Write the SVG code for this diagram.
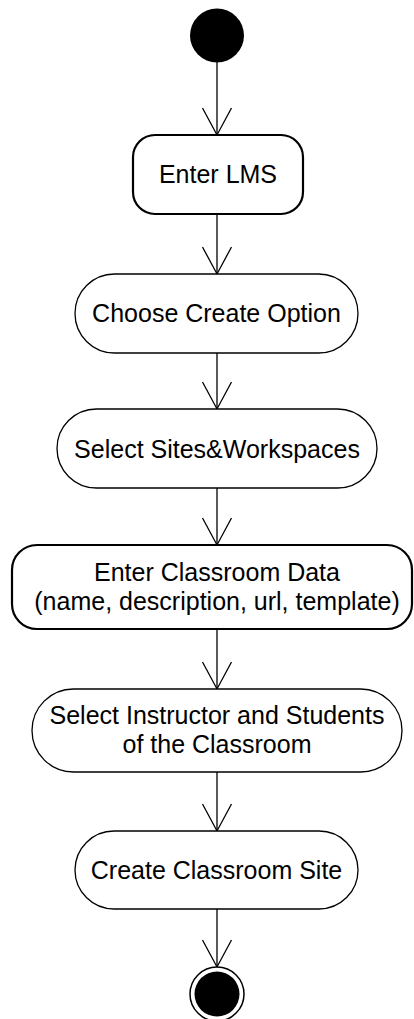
<svg xmlns="http://www.w3.org/2000/svg" width="414" height="1019" viewBox="0 0 414 1019">
<style>
.bg{fill:#fff}
.act{fill:#fff;stroke:#000;stroke-width:1.3}
.thick{stroke-width:2.2}
.lbl{font-family:"Liberation Sans",Arial,sans-serif;font-size:25px;fill:#000;text-anchor:middle}
.edge{fill:none;stroke:#000;stroke-width:1.3}
</style>
<defs>
<marker id="open" markerUnits="userSpaceOnUse" orient="auto" refX="0" refY="0" markerWidth="30" markerHeight="30" overflow="visible">
<path d="M-27,-14.5 L0,0 L-27,14.5" fill="none" stroke="#000" stroke-width="1.3"/>
</marker>
</defs>
<rect class="bg" x="0" y="0" width="414" height="1019"/>
<g id="connectors">
<line class="edge" x1="217" y1="62" x2="217" y2="135" marker-end="url(#open)"/>
<line class="edge" x1="217" y1="214" x2="217" y2="274" marker-end="url(#open)"/>
<line class="edge" x1="217" y1="353" x2="217" y2="409" marker-end="url(#open)"/>
<line class="edge" x1="217" y1="488" x2="217" y2="545" marker-end="url(#open)"/>
<line class="edge" x1="217" y1="629" x2="217" y2="689" marker-end="url(#open)"/>
<line class="edge" x1="217" y1="772" x2="217" y2="831" marker-end="url(#open)"/>
<line class="edge" x1="217" y1="909" x2="217" y2="967" marker-end="url(#open)"/>
</g>
<g id="start">
<circle cx="217" cy="35.5" r="27" fill="#000"/>
</g>
<g id="enter-lms">
<rect class="act thick" x="133" y="135" width="170" height="79" rx="22" ry="22"/>
<text class="lbl" x="218" y="183">Enter LMS</text>
</g>
<g id="choose-create">
<rect class="act" x="75" y="274" width="283" height="79" rx="39.5" ry="39.5"/>
<text class="lbl" x="216.5" y="322">Choose Create Option</text>
</g>
<g id="select-sites">
<rect class="act" x="57" y="409" width="320" height="79" rx="39.5" ry="39.5"/>
<text class="lbl" x="217" y="457.5">Select Sites&amp;Workspaces</text>
</g>
<g id="enter-classroom">
<rect class="act thick" x="12" y="545" width="400" height="84" rx="25" ry="25"/>
<text class="lbl" x="217" y="581">Enter Classroom Data</text>
<text class="lbl" x="217" y="610">(name, description, url, template)</text>
</g>
<g id="select-instructor">
<rect class="act" x="32" y="689" width="370" height="83" rx="41.5" ry="41.5"/>
<text class="lbl" x="217" y="724">Select Instructor and Students</text>
<text class="lbl" x="217" y="753">of the Classroom</text>
</g>
<g id="create-site">
<rect class="act" x="75" y="831" width="283" height="78" rx="39" ry="39"/>
<text class="lbl" x="216.5" y="879">Create Classroom Site</text>
</g>
<g id="end">
<circle cx="217" cy="994" r="27" fill="#fff" stroke="#000" stroke-width="1.5"/>
<circle cx="217" cy="994" r="22.5" fill="#000"/>
</g>
</svg>
